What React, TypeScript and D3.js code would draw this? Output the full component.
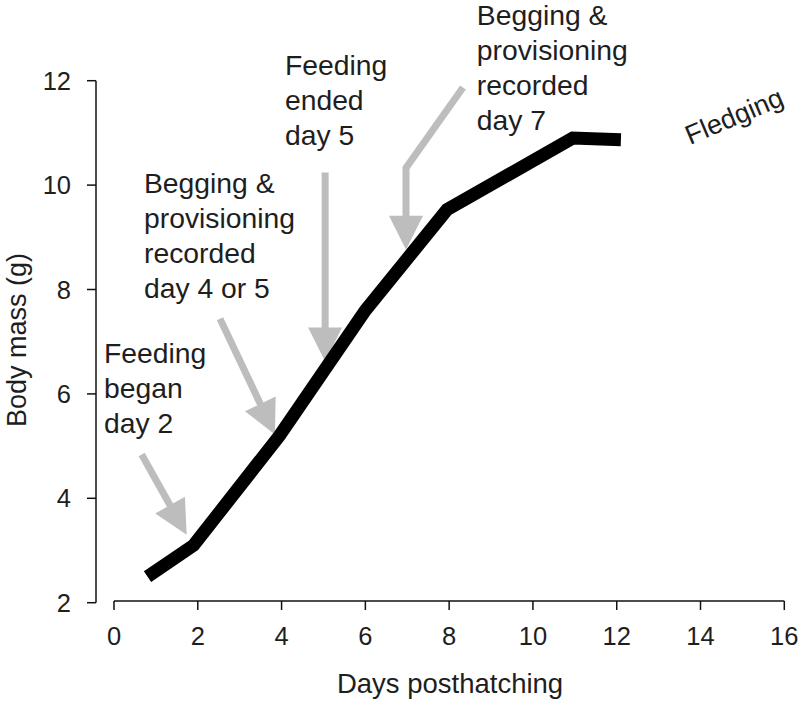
import React from "react";
import * as d3 from "d3";

const days = [0.8, 1.9, 3.95, 6, 7.95, 10.95, 12.1];
const mass = [2.5, 3.1, 5.2, 7.6, 9.53, 10.9, 10.87];

const xTicks = [0, 2, 4, 6, 8, 10, 12, 14, 16];
const yTicks = [2, 4, 6, 8, 10, 12];

const xTitle = "Days posthatching";
const yTitle = "Body mass (g)";

// annotation labels: anchor in data units (day, mass) for first line baseline
const labelLines = [
  ["Feeding", "began", "day 2"],
  ["Begging &", "provisioning", "recorded", "day 4 or 5"],
  ["Feeding", "ended", "day 5"],
  ["Begging &", "provisioning", "recorded", "day 7"],
];
const labelDays = [-0.24, 0.716, 4.08, 8.66];
const labelMass = [6.6, 9.84, 12.11, 13.07];

// arrows: polyline points in data units, last point is the tip
const arrowDays = [
  [0.66, 1.735],
  [2.53, 3.84],
  [5.04, 5.04],
  [8.33, 6.97, 6.97],
];
const arrowMass = [
  [4.84, 3.3],
  [7.44, 5.22],
  [10.24, 6.62],
  [11.87, 10.33, 8.76],
];

const fledgeLabel = "Fledging";
const fledgeDay = 13.75;
const fledgeMass = 10.77;

const W = 800;
const H = 703;

export default function App() {
  const x = d3.scaleLinear().domain([0, 16]).range([114, 784.3]);
  const y = d3.scaleLinear().domain([2, 12]).range([602.7, 80.7]);
  const yAxisX = 96;
  const xAxisY = 601;
  const font = "'Liberation Sans', Arial, sans-serif";
  const textColor = "#1e1e1e";
  const gray = "#bdbdbd";

  const line = d3
    .line<number>()
    .x((_, i) => x(days[i]))
    .y((d) => y(d));

  const headLen = 34;
  const headHalf = 17;

  const arrows = arrowDays.map((ds, k) => {
    const pts = ds.map((d, i) => [x(d), y(arrowMass[k][i])] as [number, number]);
    const n = pts.length;
    const tip = pts[n - 1];
    const prev = pts[n - 2];
    const dx = tip[0] - prev[0];
    const dy = tip[1] - prev[1];
    const len = Math.hypot(dx, dy);
    const ux = dx / len;
    const uy = dy / len;
    const bx = tip[0] - ux * headLen;
    const by = tip[1] - uy * headLen;
    const px = -uy;
    const py = ux;
    const shaft = [...pts.slice(0, n - 1), [bx + ux * 2, by + uy * 2] as [number, number]];
    const head = [
      [bx + px * headHalf, by + py * headHalf],
      [bx - px * headHalf, by - py * headHalf],
      tip,
    ];
    return { shaft, head };
  });

  return (
    <svg
      width={W}
      height={H}
      style={{ position: "absolute", left: 0, top: 0, background: "#fff" }}
      fontFamily={font}
    >
      <rect x={0} y={0} width={W} height={H} fill="#fff" />
      {/* y axis */}
      <line x1={yAxisX} x2={yAxisX} y1={y(2)} y2={y(12)} stroke="#111" strokeWidth={1.5} />
      {yTicks.map((t) => (
        <g key={"yt" + t}>
          <line x1={yAxisX - 9} x2={yAxisX} y1={y(t)} y2={y(t)} stroke="#111" strokeWidth={1.5} />
          <text
            x={71}
            y={y(t)}
            dy="0.36em"
            textAnchor="end"
            fontSize={25.5}
            fill={textColor}
          >
            {t}
          </text>
        </g>
      ))}
      {/* x axis */}
      <line x1={x(0)} x2={x(16)} y1={xAxisY} y2={xAxisY} stroke="#111" strokeWidth={1.5} />
      {xTicks.map((t) => (
        <g key={"xt" + t}>
          <line x1={x(t)} x2={x(t)} y1={xAxisY} y2={xAxisY + 9} stroke="#111" strokeWidth={1.5} />
          <text x={x(t)} y={645} textAnchor="middle" fontSize={25.5} fill={textColor}>
            {t}
          </text>
        </g>
      ))}
      <text x={450} y={693} textAnchor="middle" fontSize={27.5} fill={textColor}>
        {xTitle}
      </text>
      <text
        transform={`translate(26, 340) rotate(-90)`}
        textAnchor="middle"
        fontSize={27}
        fill={textColor}
      >
        {yTitle}
      </text>

      {/* arrows */}
      {arrows.map((a, k) => (
        <g key={"ar" + k}>
          <polyline
            points={a.shaft.map((p) => p.join(",")).join(" ")}
            fill="none"
            stroke={gray}
            strokeWidth={7}
            strokeLinejoin="miter"
          />
          <polygon points={a.head.map((p) => p.join(",")).join(" ")} fill={gray} />
        </g>
      ))}

      {/* data line */}
      <path
        d={line(mass) || ""}
        fill="none"
        stroke="#000"
        strokeWidth={13}
        strokeLinejoin="miter"
        strokeLinecap="butt"
      />

      {/* labels */}
      {labelLines.map((lines, k) => (
        <text
          key={"lb" + k}
          x={x(labelDays[k])}
          y={y(labelMass[k])}
          fontSize={28.3}
          fill={textColor}
        >
          {lines.map((s, i) => (
            <tspan key={i} x={x(labelDays[k])} dy={i === 0 ? 0 : 35}>
              {s}
            </tspan>
          ))}
        </text>
      ))}
      <text
        transform={`translate(${x(fledgeDay)}, ${y(fledgeMass)}) rotate(-23)`}
        fontSize={27}
        fill={textColor}
      >
        {fledgeLabel}
      </text>
    </svg>
  );
}
